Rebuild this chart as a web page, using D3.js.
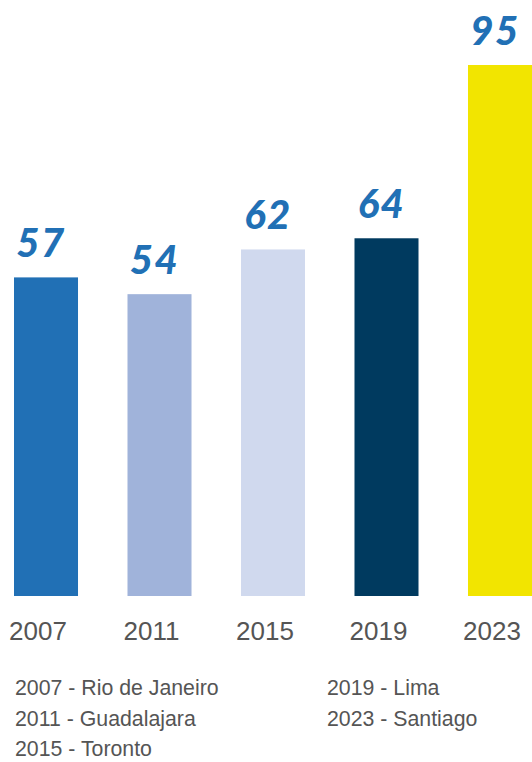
<!DOCTYPE html>
<html lang="en">
<head>
    <meta charset="utf-8">
    <title>Medals by edition</title>
    <script src="https://cdn.jsdelivr.net/npm/d3@7"></script>
    <style>
        body { margin: 0; background: #fff; }
        .tick text { font-family: "Liberation Sans", Arial, sans-serif; }
    </style>
</head>
<body>
<div id="chart"></div>
<script>
    // data
    var years = ["2007", "2011", "2015", "2019", "2023"];
    var values = [57, 54, 62, 64, 95];
    var colors = ["#2170b5", "#a0b3da", "#d0d9ee", "#003a5f", "#f2e500"];
    var legendLeft = ["2007 - Rio de Janeiro", "2011 - Guadalajara", "2015 - Toronto"];
    var legendRight = ["2019 - Lima", "2023 - Santiago"];

    var w = 532, h = 762;
    var baseY = 596;

    var svg = d3.select("#chart").append("svg")
        .attr("width", w)
        .attr("height", h);

    var x = d3.scaleBand()
        .domain(years)
        .range([14, 532])
        .paddingInner(0.436)
        .paddingOuter(0);

    var y = d3.scaleLinear()
        .domain([0, 95])
        .range([baseY, 65]);

    svg.selectAll("rect.bar")
        .data(values)
        .enter()
        .append("rect")
        .attr("class", "bar")
        .attr("x", function (d, i) { return x(years[i]); })
        .attr("y", function (d) { return y(d); })
        .attr("width", x.bandwidth())
        .attr("height", function (d) { return baseY - y(d); })
        .attr("fill", function (d, i) { return colors[i]; });

    // value labels above bars
    svg.selectAll("text.val")
        .data(values)
        .enter()
        .append("text")
        .attr("class", "val")
        .attr("x", function (d, i) { return x(years[i]) + x.bandwidth() / 2 - 5; })
        .attr("y", function (d) { return y(d) - 20; })
        .attr("text-anchor", "middle")
        .attr("font-family", "Lato, 'Open Sans', sans-serif")
        .attr("font-weight", 900)
        .attr("font-style", "italic")
        .attr("font-size", 40)
        .attr("letter-spacing", 1.5)
        .attr("fill", "#2170b5")
        .text(function (d) { return d; });

    // x axis, labels only
    var xAxis = d3.axisBottom(x).tickSize(0).tickPadding(0);
    var gx = svg.append("g")
        .attr("transform", "translate(0," + baseY + ")")
        .call(xAxis);
    gx.select(".domain").remove();
    gx.selectAll(".tick text")
        .attr("dy", 0)
        .attr("y", 44)
        .attr("dx", -8)
        .attr("font-size", 26)
        .attr("fill", "#555");

    // legend
    function legendCol(list, lx) {
        svg.append("g").selectAll("text")
            .data(list)
            .enter()
            .append("text")
            .attr("x", lx)
            .attr("y", function (d, i) { return 695 + i * 30.5; })
            .attr("font-family", "'Liberation Sans', Arial, sans-serif")
            .attr("font-size", 21.3)
            .attr("fill", "#555")
            .text(function (d) { return d; });
    }
    legendCol(legendLeft, 15);
    legendCol(legendRight, 327);
</script>
</body>
</html>
